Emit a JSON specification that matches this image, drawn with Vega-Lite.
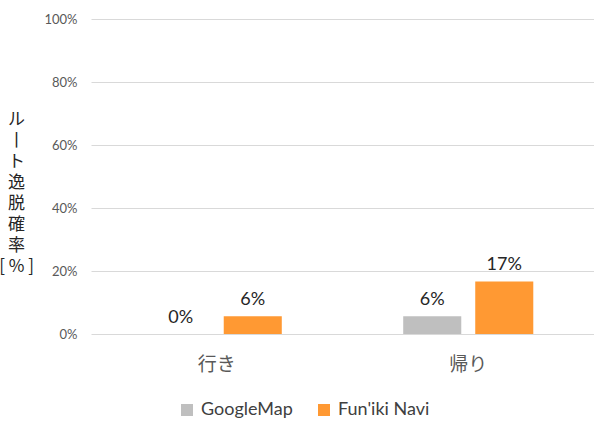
{
  "$schema": "https://vega.github.io/schema/vega-lite/v6.json",
  "autosize": {"type": "none"},
  "padding": {"left": 91, "top": 19, "right": 0, "bottom": 87},
  "width": 503,
  "height": 315,
  "background": "white",
  "config": {
    "view": {"stroke": null},
    "font": "Lato, Noto Sans CJK JP",
    "axis": {"labelFont": "Lato, Noto Sans CJK JP", "titleFont": "Noto Sans CJK JP"}
  },
  "data": {
    "values": [
      {"route": "行き", "app": "GoogleMap", "rate": 0.0},
      {"route": "行き", "app": "Fun'iki Navi", "rate": 0.056},
      {"route": "帰り", "app": "GoogleMap", "rate": 0.056},
      {"route": "帰り", "app": "Fun'iki Navi", "rate": 0.167}
    ]
  },
  "encoding": {
    "x": {
      "field": "route", "type": "nominal", "sort": ["行き", "帰り"],
      "scale": {"paddingInner": 0, "paddingOuter": 0},
      "axis": {"title": null, "labelAngle": 0, "domain": false, "ticks": false, "labelPadding": 21,
               "labelFontSize": 19, "labelColor": "#595959", "labelFont": "Noto Sans CJK JP"}
    },
    "xOffset": {
      "field": "app", "type": "nominal", "sort": ["GoogleMap", "Fun'iki Navi"],
      "scale": {"paddingInner": 0.194, "paddingOuter": 0.843}
    },
    "y": {
      "field": "rate", "type": "quantitative",
      "scale": {"domain": [0, 1], "nice": false},
      "axis": {
        "format": ".0%", "values": [0, 0.2, 0.4, 0.6, 0.8, 1],
        "domain": false, "ticks": false, "labelPadding": 14,
        "labelFontSize": 13, "labelColor": "#595959",
        "gridColor": "#d9d9d9", "gridWidth": 1,
        "title": ["ル", "丨", "ト", "逸", "脱", "確", "率", "[ % ]"],
        "titleAngle": 0, "titleAlign": "center", "titleBaseline": "top",
        "titleX": -75, "titleY": 92, "titleFontSize": 17, "titleFontWeight": "normal",
        "titleLineHeight": 21, "titleColor": "#262626"
      }
    }
  },
  "layer": [
    {
      "mark": {"type": "bar"},
      "encoding": {
        "color": {
          "field": "app", "type": "nominal", "sort": ["GoogleMap", "Fun'iki Navi"],
          "scale": {"domain": ["GoogleMap", "Fun'iki Navi"], "range": ["#bfbfbf", "#ff9933"]},
          "legend": {
            "title": null, "orient": "none", "direction": "horizontal",
            "legendX": 87, "legendY": 382, "padding": 0,
            "symbolType": "square", "symbolSize": 144, "symbolStrokeWidth": 0,
            "labelFontSize": 18, "labelColor": "#404040", "labelOffset": 5,
            "columnPadding": 22, "labelFont": "Lato"
          }
        }
      }
    },
    {
      "mark": {"type": "text", "baseline": "bottom", "dy": -7, "fontSize": 18, "color": "#262626", "font": "Lato"},
      "encoding": {
        "text": {"field": "rate", "type": "quantitative", "format": ".0%"}
      }
    }
  ]
}
